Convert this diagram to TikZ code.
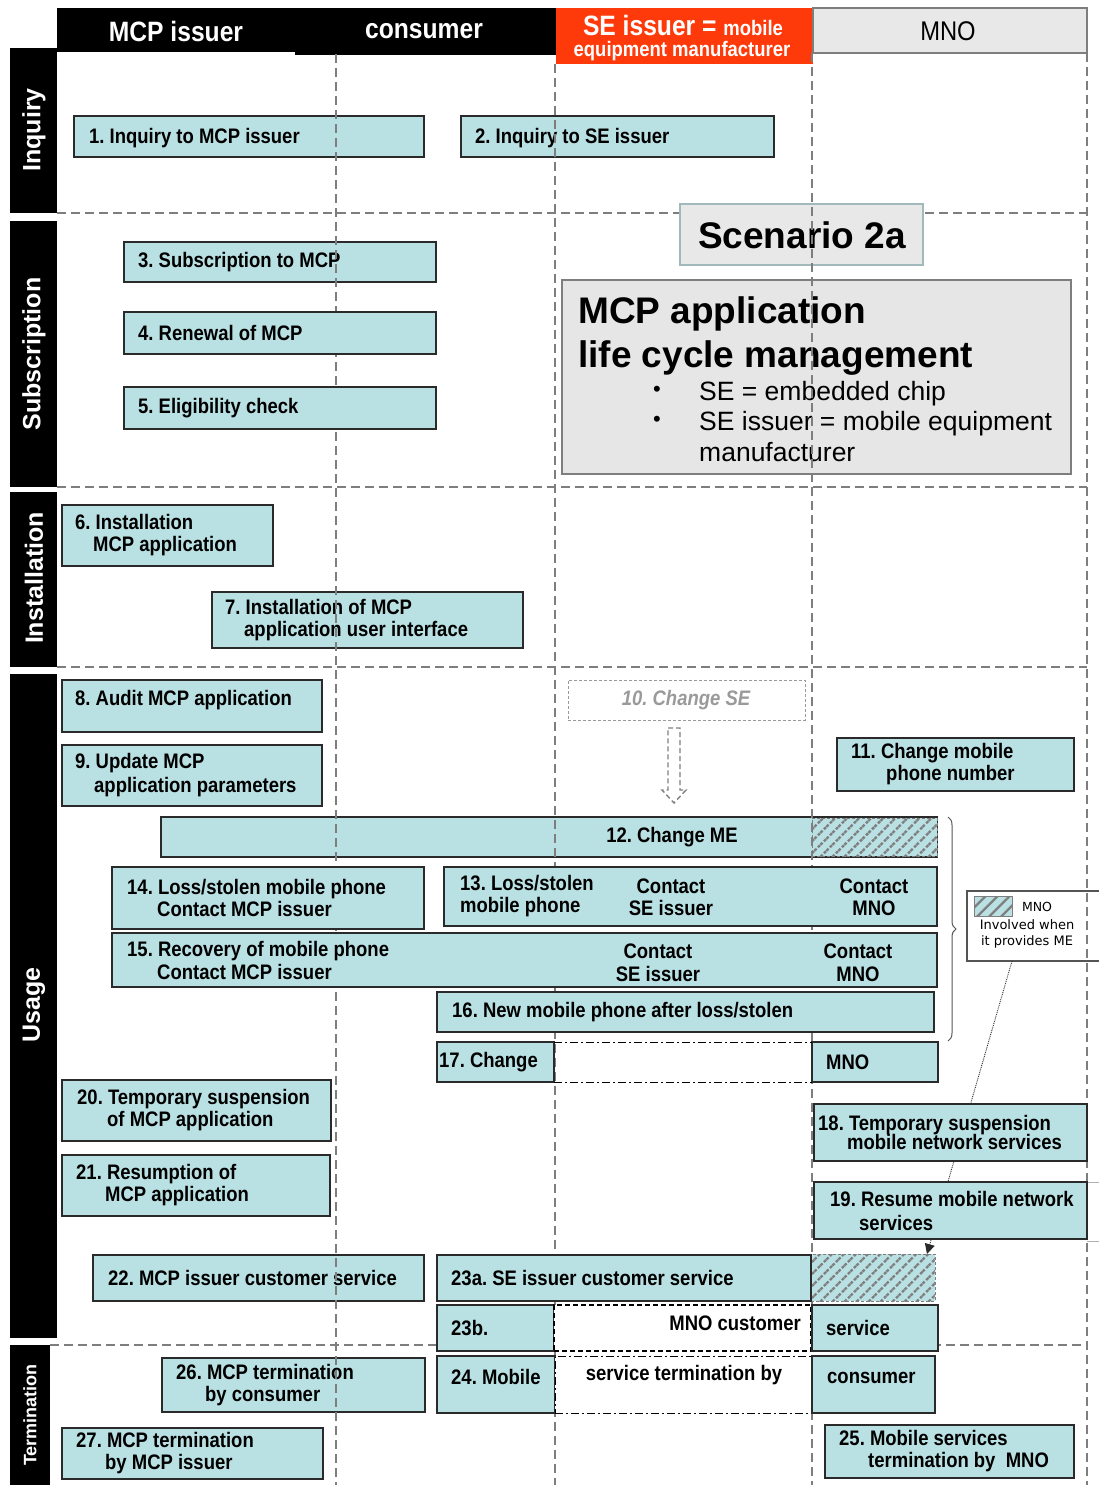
\documentclass[tikz,border=0pt]{standalone}
\usepackage{fontspec}
\setmainfont{Liberation Sans}
\newfontfamily\narrowfont[FakeStretch=0.88]{Liberation Sans}
\newfontfamily\legendfont{DejaVu Sans}
\usetikzlibrary{patterns.meta,decorations.pathreplacing,arrows.meta,calc}

\definecolor{boxfill}{HTML}{B9E0E3}
\definecolor{boxline}{HTML}{2A2A2A}
\definecolor{laneline}{HTML}{7E7E7E}
\definecolor{seRed}{HTML}{FF3A0A}
\definecolor{mnoGrey}{HTML}{E8E8E8}
\definecolor{panelGrey}{HTML}{E6E6E6}
\definecolor{hatchGrey}{HTML}{7F7F7F}
\definecolor{softGrey}{HTML}{9A9A9A}

\newcommand\stepfont{\narrowfont\bfseries\fontsize{21}{22}\selectfont}

% plain rectangle node between two corners
\newcommand\rectnode[6][]{%
  \pgfmathsetmacro\bw{#5-#3}%
  \pgfmathsetmacro\bh{#6-#4}%
  \node[anchor=north west, minimum width=\bw pt, minimum height=\bh pt,
        inner sep=0pt, outer sep=0pt, #1] (#2) at (#3,#4) {};}

% step box between two corners, its text starting #7 from the left edge
\newcommand\stepbox[8][]{%
  \rectnode[box]{#2}{#3}{#4}{#5}{#6}%
  \node[lbl, anchor=west, align=left, #1] (#2t) at ($(#2.west)+(#7,0)$) {#8};}

\begin{document}
\frenchspacing
\begin{tikzpicture}[x=1pt,y=-1pt,
  lane/.style={draw=laneline, line width=2.6pt, dash pattern=on 9pt off 5pt},
  box/.style={draw=boxline, fill=boxfill, line width=1.4pt},
  lbl/.style={inner sep=0pt, font=\stepfont, text=black},
  band/.style={fill=black, draw=none},
  bandlabel/.style={text=white, inner sep=0pt, rotate=90,
                    font=\bfseries\fontsize{25}{28}\selectfont},
  hdr/.style={text=white, inner sep=0pt, font=\narrowfont\bfseries\fontsize{28}{30}\selectfont},
  hatchbox/.style={draw=laneline, line width=1pt, dash pattern=on 3pt off 2pt,
                   preaction={fill=boxfill},
                   pattern={Lines[angle=45,distance=8.5pt,line width=2.3pt]},
                   pattern color=hatchGrey},
  dashdot/.style={draw=black, line width=1pt, dash pattern=on 8pt off 3pt on 2pt off 3pt},
  gapdash/.style={draw=black, line width=1.3pt, dash pattern=on 5pt off 3pt},
]
\useasboundingbox (0,0) rectangle (1099,1485);
\fill[white] (0,0) rectangle (1099,1485);

% ---------- column headers ----------
\rectnode[band]{hMCP}{57}{8}{296}{52}
\rectnode[band]{hCons}{295}{8}{556}{55}
\rectnode[fill=seRed]{hSE}{556}{8}{813}{64}
\rectnode[fill=mnoGrey, draw=laneline, line width=1.5pt]{hMNO}{813}{8}{1087}{53}
\node[hdr] (tMCP) at (176,31) {MCP issuer};
\node[hdr] (tCons) at (424,31) {consumer};
\node[hdr] (tSE1) at (683,25) {SE issuer = {\fontsize{21}{22}\selectfont mobile}};
\node[hdr, font=\narrowfont\bfseries\fontsize{21}{22}\selectfont] (tSE2) at (682,51) {equipment manufacturer};
\node[inner sep=0pt, font=\narrowfont\fontsize{27}{30}\selectfont] (tMNO) at (948,31) {MNO};

% ---------- phase bands ----------
\rectnode[band]{bInq}{10}{48}{57}{213}
\rectnode[band]{bSub}{10}{221}{57}{487}
\rectnode[band]{bIns}{10}{492}{57}{667}
\rectnode[band]{bUse}{10}{674}{57}{1338}
\rectnode[band]{bTer}{10}{1345}{50}{1485}
\node[bandlabel] (lInq) at (34,130) {Inquiry};
\node[bandlabel] (lSub) at (34,354) {Subscription};
\node[bandlabel] (lIns) at (34,578) {Installation};
\node[bandlabel] (lUse) at (34,1005) {Usage};
\node[bandlabel, font=\bfseries\fontsize{18}{20}\selectfont] (lTer) at (30,1415) {Termination};

% ---------- phase separators ----------
\draw[lane] (57,213) -- (1087,213);
\draw[lane] (57,487) -- (1087,487);
\draw[lane] (57,667) -- (1087,667);
\draw[lane] (50,1345) -- (1087,1345);

% ---------- boxes lying under the lane lines ----------
\stepbox[yshift=-1.5pt]{s1}{74}{116}{424}{157}{15}{1. Inquiry to MCP issuer}
\stepbox[yshift=-1.5pt]{s2}{461}{116}{774}{157}{14}{2. Inquiry to SE issuer}
\stepbox{s3}{124}{242}{436}{282}{14}{3. Subscription to MCP}
\stepbox{s7}{212}{592}{523}{648}{13}{7. Installation of MCP\\\hspace*{19pt}application user interface}
\rectnode[box]{s12}{161}{817}{937}{857}
\rectnode[hatchbox]{s12h}{812}{818}{937}{856}
\node[lbl] (t12) at (672,837) {12. Change ME};
\stepbox{s22}{93}{1255}{424}{1301}{15}{22. MCP issuer customer service}
\stepbox{s26}{162}{1358}{425}{1412}{14}{26. MCP termination\\\hspace*{29pt}by consumer}

\rectnode[fill=mnoGrey, draw=boxfill!60!gray, line width=1.5pt]{scen}{680}{204}{923}{265}
\node[inner sep=0pt, font=\bfseries\fontsize{37}{40}\selectfont] (tScen) at (802,235) {Scenario 2a};

\rectnode[fill=panelGrey, draw=laneline, line width=2pt]{panel}{562}{280}{1071}{474}
\node[inner sep=0pt, anchor=base west, font=\bfseries\fontsize{37}{40}\selectfont] (pT1) at (578,323) {MCP application};
\node[inner sep=0pt, anchor=base west, font=\bfseries\fontsize{37}{40}\selectfont] (pT2) at (578,367) {life cycle management};
\node[inner sep=0pt, font=\fontsize{22}{24}\selectfont] (pB1) at (657,391) {•};
\node[inner sep=0pt, font=\fontsize{22}{24}\selectfont] (pB2) at (657,421) {•};
\node[inner sep=0pt, anchor=base west, font=\fontsize{26.5}{30}\selectfont] (pL1) at (699,400) {SE = embedded chip};
\node[inner sep=0pt, anchor=base west, font=\fontsize{26.5}{30}\selectfont] (pL2) at (699,430) {SE issuer = mobile equipment};
\node[inner sep=0pt, anchor=base west, font=\fontsize{26.5}{30}\selectfont] (pL3) at (699,461) {manufacturer};

% legend for the hatched parts
\rectnode[fill=white, draw=boxline!80, line width=1.3pt]{legend}{967}{891}{1106}{961}
\rectnode[hatchbox, dash pattern=]{legSw}{974}{896}{1012}{916}
\node[inner sep=0pt, font=\legendfont\fontsize{12.5}{14}\selectfont] (legT1) at (1037,907) {MNO};
\node[inner sep=0pt, font=\legendfont\fontsize{13}{14}\selectfont] (legT2) at (1027,925) {Involved when};
\node[inner sep=0pt, font=\legendfont\fontsize{13}{14}\selectfont] (legT3) at (1027,942) {it provides ME};

% ---------- lane lines ----------
\draw[lane] (336,54) -- (336,1485);
\draw[lane] (555,64) -- (555,1485);
\draw[lane] (812,53) -- (812,1485);
\draw[lane] (1087,53) -- (1087,1485);
\draw[laneline!60, line width=1pt] (1087,1182) -- (1099,1182);
\draw[laneline!60, line width=1pt] (1087,1241) -- (1099,1241);

% ---------- hatched part of customer service, and its legend link ----------
\rectnode[hatchbox]{s23h}{811}{1254}{935}{1301}
\coordinate (legTail) at ($(legend.south west)+(45,0)$);
\coordinate (hatchTip) at ($(s23h.north east)+(-8,0)$);
\draw[densely dotted, line width=0.9pt, draw=boxline,
      -{Triangle[length=10pt,width=10pt]}] (legTail) -- (hatchTip);

% ---------- remaining boxes ----------
\stepbox{s4}{124}{312}{436}{354}{14}{4. Renewal of MCP}
\stepbox{s5}{124}{387}{436}{429}{14}{5. Eligibility check}
\stepbox{s6}{62}{505}{273}{566}{13}{6. Installation\\\hspace*{18pt}MCP application}
\stepbox[yshift=6pt]{s8}{62}{680}{322}{732}{13}{8. Audit MCP application}
\stepbox{s9}{62}{745}{322}{806}{13}{9. Update MCP\\[2pt]\hspace*{19pt}application parameters}

\rectnode[fill=white, draw=softGrey, line width=1pt, dash pattern=on 3pt off 2pt]{s10}{568}{680}{805}{720}
\node[lbl, text=softGrey, font=\narrowfont\bfseries\itshape\fontsize{21}{22}\selectfont] (t10) at (686,700) {10. Change SE};
\draw[draw=gray, line width=1.4pt, dash pattern=on 5pt off 3pt, line join=miter]
  (668,728) -- (680,728) -- (680,790) -- (686,790) -- (674,803) -- (662,790) -- (668,790) -- cycle;

\stepbox{s11}{837}{738}{1074}{791}{14}{11. Change mobile\\\hspace*{35pt}phone number}

\stepbox{s13}{444}{867}{937}{926}{16}{13. Loss/stolen\\mobile phone}
\node[lbl, align=center] (t13b) at (671,897) {Contact\\SE issuer};
\node[lbl, align=center] (t13c) at (874,897) {Contact\\MNO};
\stepbox{s14}{112}{867}{424}{929}{15}{14. Loss/stolen mobile phone\\\hspace*{30pt}Contact MCP issuer}
\stepbox{s15}{112}{933}{937}{987}{15}{15. Recovery of mobile phone\\[1pt]\hspace*{30pt}Contact MCP issuer}
\node[lbl, align=center, font=\narrowfont\bfseries\fontsize{21}{23}\selectfont] (t15b) at (658,963) {Contact\\SE issuer};
\node[lbl, align=center, font=\narrowfont\bfseries\fontsize{21}{23}\selectfont] (t15c) at (858,963) {Contact\\MNO};
\stepbox{s16}{437}{992}{934}{1032}{15}{16. New mobile phone after loss/stolen}

\draw[decorate, decoration={brace, amplitude=8pt}, draw=boxline!80, line width=1pt]
  (948,817) -- (948,1041);

\stepbox{s17a}{437}{1042}{554}{1082}{2}{17. Change}
\stepbox{s17c}{812}{1042}{938}{1082}{14}{MNO}
\draw[dashdot] (s17a.north east) -- (s17c.north west);
\draw[dashdot] (s17a.south east) -- (s17c.south west);

\stepbox{s18}{814}{1104}{1087}{1161}{4}{18. Temporary suspension\\[-3pt]\hspace*{29pt}mobile network services}
\stepbox{s19}{814}{1182}{1087}{1239}{16}{19. Resume mobile network\\[2pt]\hspace*{29pt}services}
\stepbox{s20}{62}{1080}{331}{1141}{15}{20. Temporary suspension\\\hspace*{30pt}of MCP application}
\stepbox{s21}{62}{1155}{330}{1216}{14}{21. Resumption of\\\hspace*{29pt}MCP application}

\stepbox{s23a}{437}{1255}{811}{1301}{14}{23a. SE issuer customer service}
\stepbox{s23bl}{437}{1305}{554}{1351}{14}{23b.}
\rectnode[fill=white, gapdash]{s23bm}{554}{1305}{811}{1351}
\node[lbl, anchor=east] (t23b) at (801,1323) {MNO customer};
\stepbox{s23br}{812}{1305}{938}{1351}{14}{service}

\stepbox[yshift=8pt]{s24l}{437}{1356}{555}{1413}{14}{24. Mobile}
\rectnode[fill=white, dashdot]{s24m}{555}{1356}{812}{1413}
\node[lbl] (t24) at (684,1375) {service termination by};
\stepbox[yshift=7pt]{s24r}{812}{1356}{935}{1413}{15}{consumer}

\stepbox{s25}{825}{1425}{1074}{1478}{14}{25. Mobile services\\\hspace*{29pt}termination by\ \ MNO}
\stepbox{s27}{62}{1428}{323}{1479}{14}{27. MCP termination\\\hspace*{29pt}by MCP issuer}
\end{tikzpicture}
\end{document}
